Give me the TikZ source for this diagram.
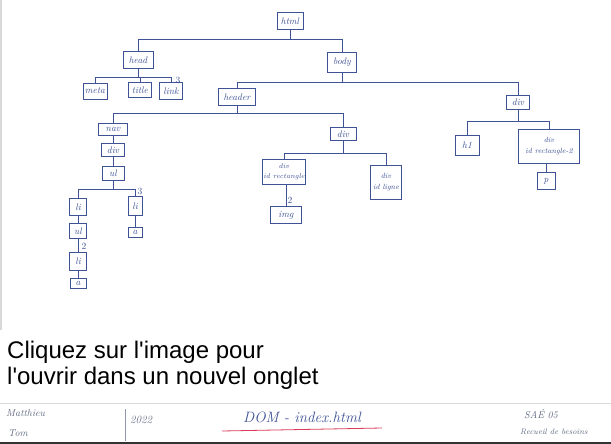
\documentclass[tikz,border=0pt]{standalone}
\usepackage{fontspec}
\newfontfamily\arialfont{Liberation Sans}
\usetikzlibrary{calc}
\definecolor{pen}{RGB}{62,82,150}
\definecolor{pencil}{RGB}{95,105,130}
\definecolor{redpen}{RGB}{220,60,90}
\tikzset{
  tag/.style={draw=pen, line width=0.8pt, text=pen, font=\itshape\fontsize{9.5}{10}\selectfont,
              inner sep=1pt, align=center},
  link/.style={draw=pen, line width=0.8pt},
  count/.style={text=pen, font=\fontsize{9.5}{9.5}\selectfont, inner sep=0pt},
  foot/.style={text=pencil, font=\itshape\fontsize{10}{10}\selectfont, inner sep=0pt, anchor=west}
}
\begin{document}
\begin{tikzpicture}[x=1pt,y=-1pt]
\useasboundingbox (0,0) rectangle (611,444);
\fill[white] (0,0) rectangle (611,444);
\fill[black!15] (0,0) rectangle (1.5,330);

% nodes
\node[tag, minimum width=26, minimum height=17] (html) at (290,21) {html};
\node[tag, minimum width=30, minimum height=17] (head) at (138,60) {head};
\node[tag, minimum width=29, minimum height=20] (body) at (342,62) {body};
\node[tag, minimum width=24, minimum height=16] (meta) at (95,91) {meta};
\node[tag, minimum width=23, minimum height=15] (title) at (140,90) {title};
\node[tag, minimum width=23, minimum height=17] (linkn) at (171,91) {link};
\node[tag, minimum width=37, minimum height=17] (header) at (237,97) {header};
\node[tag, minimum width=23, minimum height=14] (divR) at (518,102) {div};
\node[tag, minimum width=24, minimum height=20] (h1) at (467,145) {h1};
\node[tag, minimum width=61, minimum height=34, font=\itshape\fontsize{7.5}{11}\selectfont] (divRtwo) at (549,146) {div\\id rectangle-2};
\node[tag, minimum width=18, minimum height=17] (p) at (546,181) {p};
\node[tag, minimum width=29, minimum height=12] (nav) at (113,129) {nav};
\node[tag, minimum width=23, minimum height=13] (divN) at (113,150) {div};
\node[tag, minimum width=22, minimum height=14] (ulN) at (113,173) {ul};
\node[tag, minimum width=17, minimum height=17] (liA) at (78,207) {li};
\node[tag, minimum width=14, minimum height=19] (liB) at (135,206) {li};
\node[tag, minimum width=17, minimum height=15] (ulB) at (78,231) {ul};
\node[tag, minimum width=14, minimum height=10] (aA) at (135,232) {a};
\node[tag, minimum width=17, minimum height=18] (liC) at (78,261) {li};
\node[tag, minimum width=16, minimum height=10] (aB) at (78,283) {a};
\node[tag, minimum width=26, minimum height=13] (divM) at (343,134) {div};
\node[tag, minimum width=42, minimum height=25, font=\itshape\fontsize{7}{10}\selectfont] (divRect) at (284,172) {div\\id rectangle};
\node[tag, minimum width=31, minimum height=34, font=\itshape\fontsize{7.5}{11}\selectfont] (divLigne) at (386,182) {div\\id ligne};
\node[tag, minimum width=31, minimum height=17] (img) at (286,215) {img};

% bus levels
\coordinate (bHtml) at (0,39);
\coordinate (bHead) at (0,77);
\coordinate (bBody) at (0,82);
\coordinate (bDivR) at (0,121);
\coordinate (bHeader) at (0,113);
\coordinate (bDivM) at (0,153);
\coordinate (bUl) at (0,189);

% connectors
\draw[link] (html.south) -- (html.south |- bHtml) -| (head.north);
\draw[link] (html.south |- bHtml) -| (body.north);
\draw[link] (head.south) -- (head.south |- bHead) -| (meta.north);
\draw[link] (head.south |- bHead) -| (title.north);
\draw[link] (head.south |- bHead) -| (linkn.north);
\draw[link] (body.south) -- (body.south |- bBody) -| (header.north);
\draw[link] (body.south |- bBody) -| (divR.north);
\draw[link] (divR.south) -- (divR.south |- bDivR) -| (h1.north);
\draw[link] (divR.south |- bDivR) -| (divRtwo.north);
\draw[link] (divRtwo.south -| p.north) -- (p.north);
\draw[link] (header.south) -- (header.south |- bHeader) -| (nav.north);
\draw[link] (header.south |- bHeader) -| (divM.north);
\draw[link] (nav.south) -- (divN.north);
\draw[link] (divN.south) -- (ulN.north);
\draw[link] (ulN.south) -- (ulN.south |- bUl) -| (liA.north);
\draw[link] (ulN.south |- bUl) -| (liB.north);
\draw[link] (liA.south) -- (ulB.north);
\draw[link] (ulB.south) -- (liC.north);
\draw[link] (liC.south) -- (aB.north);
\draw[link] (liB.south) -- (aA.north);
\draw[link] (divM.south) -- (divM.south |- bDivM) -| (divRect.north);
\draw[link] (divM.south |- bDivM) -| (divLigne.north);
\draw[link] (divRect.south -| img.north) -- (img.north);

% counts
\node[count] (n1) at (178,80) {3};
\node[count] (n2) at (140,191) {3};
\node[count] (n3) at (84,246) {2};
\node[count] (n4) at (290,200) {2};

% overlay text
\node[anchor=west, inner sep=0pt, font=\arialfont\fontsize{24}{26}\selectfont] (c1) at (7,352) {Cliquez sur l'image pour};
\node[anchor=west, inner sep=0pt, font=\arialfont\fontsize{24}{26}\selectfont] (c2) at (7,378) {l'ouvrir dans un nouvel onglet};

% footer
\draw[black!15, line width=0.6pt] (0,403) -- (611,403);
\draw[pencil!70, line width=0.5pt] (125,409) -- (125,441);
\node[foot] (f1) at (6,413) {Matthieu};
\node[foot] (f2) at (8,433) {Tom};
\node[foot, font=\itshape\fontsize{11}{11}\selectfont] (f3) at (130,420) {2022};
\node[text=pen, font=\itshape\fontsize{15}{15}\selectfont, inner sep=0pt] (f4) at (302,417) {DOM - index.html};
\draw[redpen, line width=0.8pt] (222,431) -- (382,428);
\node[foot] (f5) at (524,414) {SAÉ 05};
\node[foot, font=\itshape\fontsize{8}{8}\selectfont] (f6) at (520,432) {Recueil de besoins};
\fill[black!80] (0,441.5) rectangle (611,444);
\end{tikzpicture}
\end{document}
